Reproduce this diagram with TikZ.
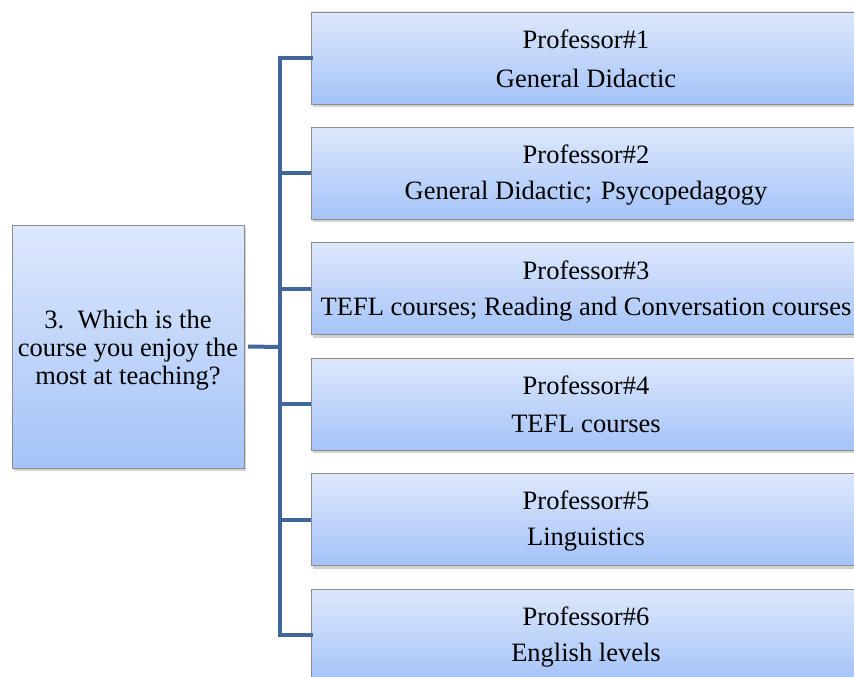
\documentclass[tikz,border=0pt]{standalone}
\usepackage{fontspec}
\setmainfont{Liberation Serif}
\usetikzlibrary{shadows}
\definecolor{boxtop}{HTML}{DDE8FC}
\definecolor{boxbot}{HTML}{A5C3F8}
\definecolor{boxline}{HTML}{8C8C8C}
\definecolor{linkblue}{HTML}{41679A}
\begin{document}
\begin{tikzpicture}[x=1pt,y=-1pt,
  card/.style={draw=boxline, line width=0.8pt, top color=boxtop, bottom color=boxbot,
    drop shadow={shadow xshift=2pt, shadow yshift=-3pt, opacity=0.3, fill=black!60},
    inner sep=0pt, outer sep=0pt},
  label/.style={font=\fontsize{26.5}{28}\selectfont, align=center, inner sep=0pt},
  link/.style={draw=linkblue, line width=4pt}]
\useasboundingbox (0,0) rectangle (854,677);

% question box
\node[card, minimum width=232pt, minimum height=243pt, anchor=north west] (q) at (12,225) {};
\node[label] (qt) at (128,350) {3.\ \ Which is the\\course you enjoy the\\most at teaching?};

% professor boxes
\foreach \i/\a/\b in {1/General Didactic,
                      2/General Didactic;\ \kern2pt Psycopedagogy,
                      3/TEFL courses; Reading and Conversation courses,
                      4/TEFL courses,
                      5/Linguistics,
                      6/English levels}{
  \pgfmathsetmacro{\cy}{58+115.4*(\i-1)}
  \node[card, minimum width=551pt, minimum height=92pt, anchor=west] (p\i) at (311,\cy) {};
  \node[label] (pa\i) at (586,\cy-19) {Professor\#\i};
  \node[label] (pb\i) at (586,\cy+20) {\a};
}

% bracket connectors
\coordinate (spine) at (280,347);
\draw[link] (q.east) ++(4,0) -- (spine);
\draw[link, line cap=rect] (p1.west) -- (p1.west -| spine) -- (p6.west -| spine) -- (p6.west);
\foreach \i in {2,3,4,5}{
  \draw[link] (p\i.west -| spine) -- (p\i.west);
}
\end{tikzpicture}
\end{document}
